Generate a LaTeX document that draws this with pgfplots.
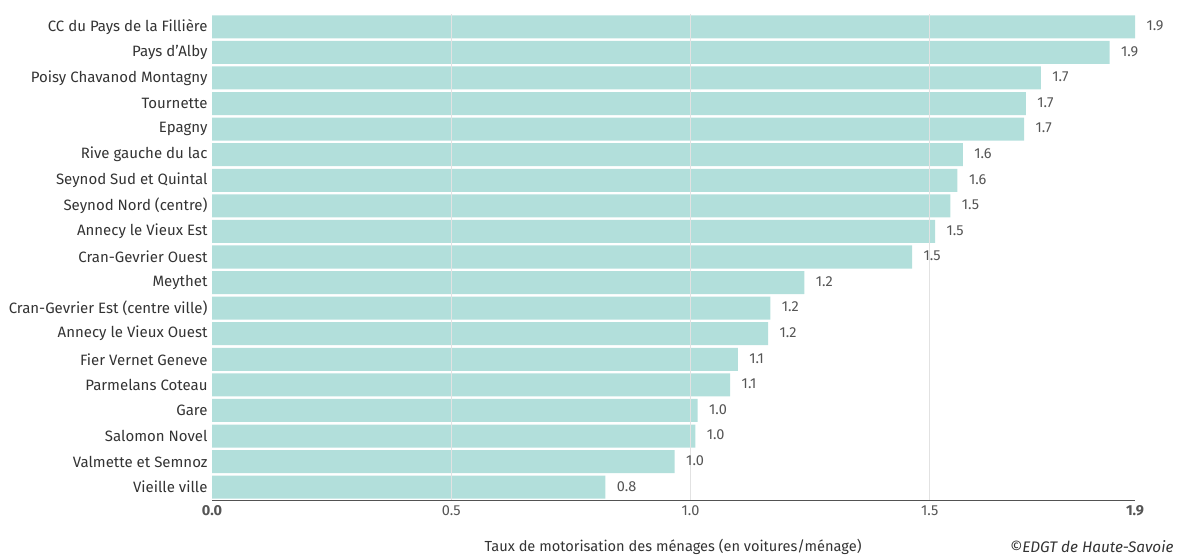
\documentclass[border=0pt]{standalone}
\usepackage{fontspec}
\setmainfont{Fira Sans}
\usepackage{pgfplots}
\usepackage{pgfplotstable}
\pgfplotsset{compat=1.18}
\definecolor{barc}{HTML}{B2DFDB}
\definecolor{txt}{HTML}{333333}
\definecolor{lbl}{HTML}{555555}
\definecolor{gridc}{HTML}{E2E2E2}
\pgfplotstableread{
val idx
1.929 0
1.876 1
1.732 2
1.701 3
1.697 4
1.569 5
1.558 6
1.543 7
1.511 8
1.463 9
1.238 10
1.167 11
1.162 12
1.099 13
1.083 14
1.015 15
1.010 16
0.967 17
0.822 18
}\datatable
\begin{document}
\begin{tikzpicture}[x=1pt,y=1pt]
\path[use as bounding box] (0,0) rectangle (1188,556);
\begin{axis}[
  at={(212pt,56pt)}, anchor=south west,
  scale only axis, width=923pt, height=486pt,
  xbar, bar width=0.9,
  xmin=0, xmax=1.929, ymin=-0.5, ymax=18.5, y dir=reverse,
  ytick={0,...,18},
  yticklabels={CC du Pays de la Fillière, Pays d'Alby, Poisy Chavanod Montagny, Tournette, Epagny, Rive gauche du lac, Seynod Sud et Quintal, Seynod Nord (centre), Annecy le Vieux Est, Cran-Gevrier Ouest, Meythet, Cran-Gevrier Est (centre ville), Annecy le Vieux Ouest, Fier Vernet Geneve, Parmelans Coteau, Gare, Salomon Novel, Valmette et Semnoz, Vieille ville},
  yticklabel style={font=\fontsize{15}{17}\selectfont, text=txt, xshift=-1pt},
  xtick={0.5,1,1.5},
  xticklabels={0.5,1.0,1.5},
  extra x ticks={0,1.929},
  extra x tick labels={\textbf{0.0},\textbf{1.9}},
  extra x tick style={grid=none},
  xticklabel style={font=\fontsize{14.5}{16}\selectfont, text=lbl, yshift=-2pt},
  xmajorgrids, major grid style={gridc, line width=0.8pt},
  major tick length=0pt,
  axis x line*=bottom, axis y line*=left,
  x axis line style={draw=txt!85, line width=1pt, -},
  y axis line style={draw=none},
  axis on top,
  nodes near coords,
  point meta=explicit,
  every node near coord/.append style={anchor=west, font=\fontsize{14.5}{16}\selectfont, text=lbl, xshift=8pt, yshift=1pt, /pgf/number format/.cd, fixed, fixed zerofill, precision=1, assume math mode=true},
  clip=false,
]
\addplot[fill=barc, draw=none] table[x=val, y=idx, meta=val] {\datatable};
\end{axis}
\node[anchor=base, font=\fontsize{14.6}{16}\selectfont, text=txt] at (673,4) {Taux de motorisation des ménages (en voitures/ménage)};
\node[anchor=base east, font=\fontsize{15.3}{16}\selectfont\itshape, text=txt] at (1177,3) {©EDGT de Haute-Savoie};
\end{tikzpicture}
\end{document}
